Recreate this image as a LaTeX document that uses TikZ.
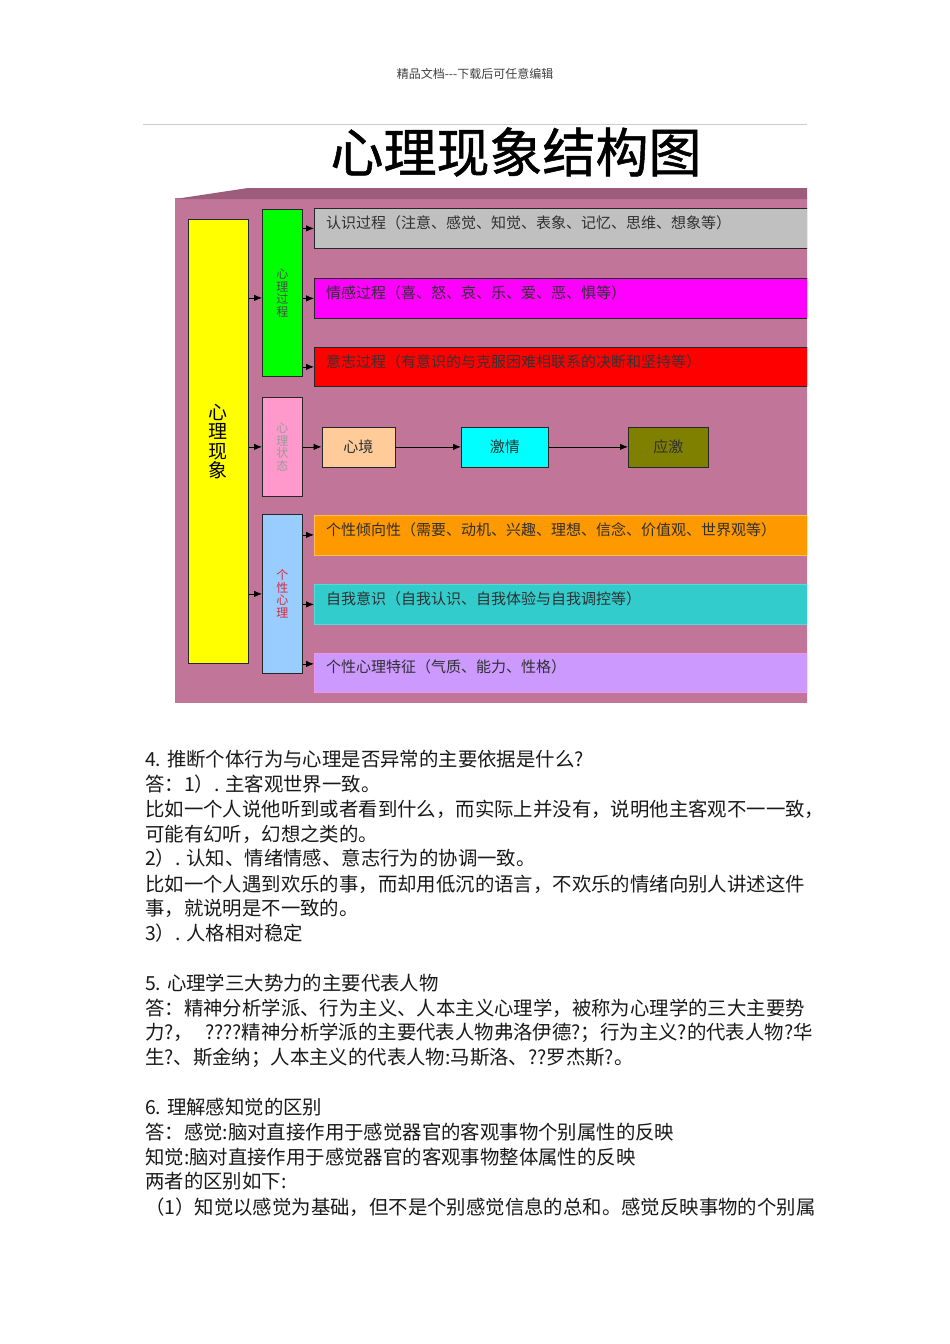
\documentclass[tikz,border=0pt]{standalone}
\usepackage{fontspec}
\setmainfont{Noto Sans CJK SC}
\newfontfamily\titlefont{Noto Sans CJK SC}[FakeBold=1]
\usetikzlibrary{arrows.meta,calc}
\definecolor{panelc}{RGB}{193,118,153}
\definecolor{bandc}{RGB}{158,92,124}
\definecolor{grayc}{RGB}{192,192,192}
\definecolor{yelc}{RGB}{255,255,0}
\definecolor{grnc}{RGB}{0,255,0}
\definecolor{magc}{RGB}{255,0,255}
\definecolor{redc}{RGB}{255,0,0}
\definecolor{cyanc}{RGB}{0,255,255}
\definecolor{peachc}{RGB}{255,204,153}
\definecolor{olivec}{RGB}{128,128,0}
\definecolor{pinkc}{RGB}{255,153,204}
\definecolor{bluec}{RGB}{153,204,255}
\definecolor{orangec}{RGB}{255,153,0}
\definecolor{tealc}{RGB}{51,204,204}
\definecolor{lavc}{RGB}{204,153,255}
\definecolor{txtc}{RGB}{48,48,48}
\tikzset{
  box/.style={draw=black!85, line width=0.8pt, inner sep=0pt, anchor=north west},
  wide/.style={box, minimum width=494, minimum height=40},
  small/.style={box, minimum width=40},
  lbl/.style={anchor=west, inner sep=0pt, text=txtc, font=\fontsize{15}{15}\selectfont},
  vlbl/.style={align=center, font=\fontsize{12}{12.5}\selectfont},
  arr/.style={-{Latex[length=8pt,width=6.5pt]}, line width=0.8pt, black},
  body/.style={anchor=west, inner sep=0pt, text=black!90, font=\fontsize{19.4}{25}\selectfont},
}
\begin{document}
\begin{tikzpicture}[x=1pt,y=-1pt]
\useasboundingbox[fill=white] (0,0) rectangle (950,1344);
% header
\node[text=black!75, font=\fontsize{12}{12}\selectfont] (hdr) at (475,74) {精品文档-{}-{}-下载后可任意编辑};
\draw[black!20, line width=1pt] (143,124) coordinate (l1) -- (807,124) coordinate (l2);
\node[font=\titlefont\fontsize{53}{53}\selectfont] (title) at (516,152) {心理现象结构图};
\begin{scope}
\clip (0,0) rectangle (807,1344);
% panel
\fill[panelc] (175,198) rectangle (808,703);
\fill[bandc] (175,199) -- (248,188) -- (808,188) -- (808,199) -- cycle;
% left column
\node[box, fill=yelc, minimum width=60, minimum height=444, vlbl, font=\fontsize{19}{19.5}\selectfont] (yel) at (188,219) {心\\理\\现\\象};
\node[small, fill=grnc, minimum height=167, vlbl, text=black!70] (proc) at (262,209) {心\\理\\过\\程};
\node[small, fill=pinkc, minimum height=99, vlbl, text=black!40] (state) at (262,397) {心\\理\\状\\态};
\node[small, fill=bluec, minimum height=159, vlbl, text={rgb,255:red,220;green,40;blue,60}] (pers) at (262,514) {个\\性\\心\\理};
% process boxes
\node[wide, fill=grayc] (cog) at (314,208) {};
\node[wide, fill=magc] (emo) at (314,278) {};
\node[wide, fill=redc, minimum height=39] (will) at (314,347) {};
\node[lbl] (cogt) at ($(cog.north west)+(12,15)$) {认识过程（注意、感觉、知觉、表象、记忆、思维、想象等）};
\node[lbl] (emot) at ($(emo.north west)+(12,15)$) {情感过程（喜、怒、哀、乐、爱、恶、惧等）};
\node[lbl, text=black!80] (willt) at ($(will.north west)+(12,15)$) {意志过程（有意识的与克服困难相联系的决断和坚持等）};
% state boxes
\node[box, fill=peachc, minimum width=73, minimum height=40, font=\fontsize{15}{15}\selectfont, text=txtc] (mood) at (321.5,426.5) {心境};
\node[box, fill=cyanc, minimum width=87, minimum height=40, font=\fontsize{15}{15}\selectfont, text=txtc] (pass) at (461,426.5) {激情};
\node[box, fill=olivec, minimum width=80, minimum height=40, font=\fontsize{15}{15}\selectfont, text=txtc] (stress) at (628,426.5) {应激};
% personality boxes
\node[wide, fill=orangec, draw={rgb,255:red,255;green,190;blue,80}, minimum height=40] (tend) at (314,514.5) {};
\node[wide, fill=tealc, draw={rgb,255:red,80;green,220;blue,220}, minimum height=40] (self) at (314,584) {};
\node[wide, fill=lavc, draw={rgb,255:red,235;green,150;blue,235}, minimum height=39] (trait) at (314,653) {};
\node[lbl] (tendt) at ($(tend.north west)+(12,15)$) {个性倾向性（需要、动机、兴趣、理想、信念、价值观、世界观等）};
\node[lbl] (selft) at ($(self.north west)+(12,15)$) {自我意识（自我认识、自我体验与自我调控等）};
\node[lbl] (traitt) at ($(trait.north west)+(12,14)$) {个性心理特征（气质、能力、性格）};
\end{scope}
% arrows
\draw[arr] ([yshift=-5pt]yel.east |- proc.west) -- ([yshift=-5pt]proc.west);
\draw[arr] (yel.east |- state.west) -- (state.west);
\draw[arr] (yel.east |- pers.west) -- (pers.west);
\draw[arr] (proc.east |- cog.west) -- (cog.west);
\draw[arr] (proc.east |- emo.west) -- (emo.west);
\draw[arr] (proc.east |- will.west) -- (will.west);
\draw[arr] (state.east |- mood.west) -- (mood.west);
\draw[arr] (mood) -- (pass);
\draw[arr] (pass) -- (stress);
\draw[arr] (pers.east |- tend.west) -- (tend.west);
\draw[arr] (pers.east |- self.west) -- (self.west);
\draw[arr] ([yshift=9pt]pers.east |- trait.west) -- ([yshift=9pt]trait.west);
% body text
\node[body] (t1) at (145,759) {4. 推断个体行为与心理是否异常的主要依据是什么?};
\node[body] (t2) at (145,784) {答：1）. 主客观世界一致。};
\node[body] (t3) at (145,809) {比如一个人说他听到或者看到什么，而实际上并没有，说明他主客观不一一致，};
\node[body] (t4) at (145,834) {可能有幻听，幻想之类的。};
\node[body] (t5) at (145,858) {2）. 认知、情绪情感、意志行为的协调一致。};
\node[body] (t6) at (145,884) {比如一个人遇到欢乐的事，而却用低沉的语言，不欢乐的情绪向别人讲述这件};
\node[body] (t7) at (145,908) {事，就说明是不一致的。};
\node[body] (t8) at (145,933) {3）. 人格相对稳定};
\node[body] (t9) at (145,983) {5. 心理学三大势力的主要代表人物};
\node[body] (t10) at (145,1008) {答：精神分析学派、行为主义、人本主义心理学，被称为心理学的三大主要势};
\node[body] (t11) at (145,1033) {力?，\hspace{12pt}????精神分析学派的主要代表人物弗洛伊德?；行为主义?的代表人物?华};
\node[body] (t12) at (145,1058) {生?、斯金纳；人本主义的代表人物:马斯洛、??罗杰斯?。};
\node[body] (t13) at (145,1107) {6. 理解感知觉的区别};
\node[body] (t14) at (145,1132) {答：感觉:脑对直接作用于感觉器官的客观事物个别属性的反映};
\node[body] (t15) at (145,1157) {知觉:脑对直接作用于感觉器官的客观事物整体属性的反映};
\node[body] (t16) at (145,1181) {两者的区别如下:};
\node[body] (t17) at (145,1207) {（1）知觉以感觉为基础，但不是个别感觉信息的总和。感觉反映事物的个别属};
\end{tikzpicture}
\end{document}
